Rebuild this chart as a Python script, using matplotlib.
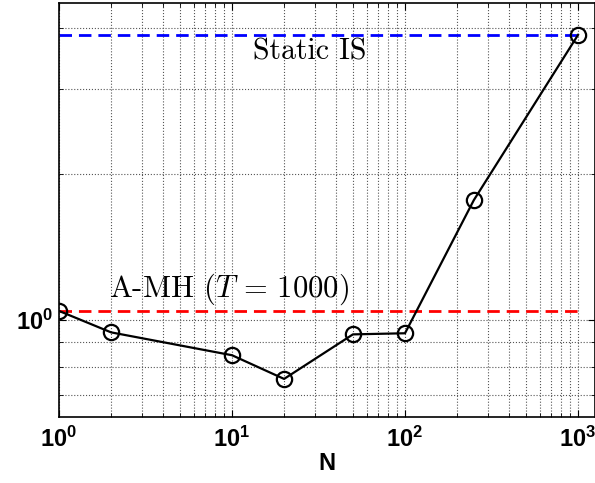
import math

import matplotlib
matplotlib.use("Agg")
import matplotlib.pyplot as plt
from matplotlib.ticker import LogLocator, NullFormatter, FixedLocator, FuncFormatter

plt.rcParams['mathtext.fontset'] = 'custom'
plt.rcParams['mathtext.rm'] = 'Liberation Sans'
plt.rcParams['mathtext.bf'] = 'Liberation Sans:bold'
plt.rcParams['mathtext.it'] = 'cmmi10'

# data
n_values = [1, 2, 10, 20, 50, 100, 250, 1000]
error_values = [1.044, 0.943, 0.846, 0.756, 0.934, 0.939, 1.767, 3.87]
static_is = 3.87
amh_level = 1.044
x_range = [1, 1000]

fig = plt.figure(figsize=(5.95, 4.83), dpi=100)
ax = fig.add_axes([59 / 595, 1 - 417 / 483, 1 - 59 / 595, (417 - 3) / 483])

ax.plot(x_range, [static_is, static_is], color='blue', linestyle='--',
        linewidth=2, dashes=(4.5, 2.5))
ax.plot(x_range, [amh_level, amh_level], color='red', linestyle='--',
        linewidth=2, dashes=(4.5, 2.5))
ax.plot(n_values, error_values, color='black', linewidth=1.6, marker='o',
        markersize=11, markerfacecolor='none', markeredgewidth=1.6)

ax.set_xscale('log')
ax.set_yscale('log')
ax.set_xlim(1, 10 ** ((595 - 59) / 173.0))
ax.set_ylim(10 ** (-97 / 485.0), 10 ** (317 / 485.0))


def pow_label(v, pos):
    return r'$\mathbf{10^{%d}}$' % round(math.log10(v))


ax.xaxis.set_major_locator(LogLocator(base=10, numticks=10))
ax.xaxis.set_major_formatter(FuncFormatter(pow_label))
ax.xaxis.set_minor_locator(LogLocator(base=10, subs=range(2, 10), numticks=20))
ax.xaxis.set_minor_formatter(NullFormatter())
ax.yaxis.set_major_locator(FixedLocator([1.0]))
ax.yaxis.set_major_formatter(FuncFormatter(pow_label))
ax.yaxis.set_minor_locator(FixedLocator([0.7, 0.8, 0.9, 2, 3, 4]))
ax.yaxis.set_minor_formatter(NullFormatter())

ax.grid(True, which='both', linestyle=':', color='#555555', linewidth=0.8)
ax.tick_params(which='both', direction='in', top=True, right=True, labelsize=17)
ax.tick_params(which='major', length=5)
ax.tick_params(which='minor', length=3)
ax.tick_params(axis='x', pad=7)
ax.tick_params(axis='y', pad=4)

ax.set_xlabel('N', fontsize=17, fontweight='bold', family='Liberation Sans',
              labelpad=0)

ax.text(28, 3.44, 'Static IS', fontsize=21.5, family='cmr10',
        ha='center', va='baseline')
ax.text(1.95, 1.115, 'A-MH ($T$ = 1000)', fontsize=22, family='cmr10',
        ha='left', va='baseline')

for s in ax.spines.values():
    s.set_linewidth(1.2)

fig.savefig('out.png', dpi=100)
